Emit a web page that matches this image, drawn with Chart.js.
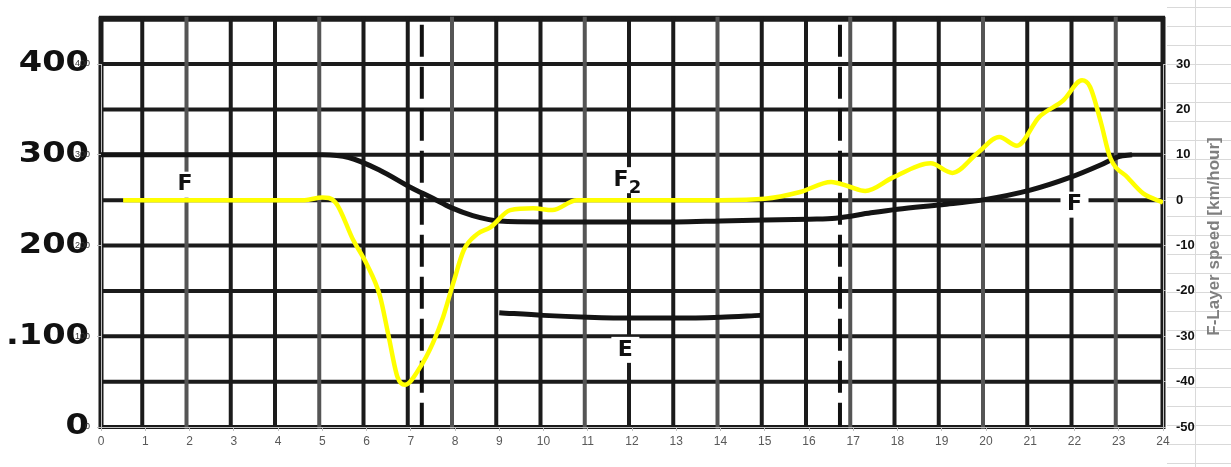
<!DOCTYPE html>
<html>
<head>
<meta charset="utf-8">
<script src="https://cdn.jsdelivr.net/npm/chart.js@4.4.0/dist/chart.umd.min.js"></script>
<style>
  html, body { margin: 0; padding: 0; background: #fff; }
</style>
</head>
<body>
<canvas id="speedChart" width="1231" height="467"></canvas>
<script>
// yellow curve: F-layer speed (km/hour), right axis
const speedHours = [0.5, 1, 2, 3, 4, 4.6, 5, 5.3, 5.7, 6.0, 6.3, 6.5, 6.7, 6.87, 7.2, 7.5, 7.73, 7.96, 8.2, 8.5, 8.8, 9.25, 9.77, 10.2, 10.75, 11.5, 12, 13, 14, 15, 15.8, 16.5, 16.9, 17.27, 17.9, 18.75, 19.24, 19.8, 20.3, 20.7, 21.2, 21.75, 22.17, 22.35, 22.6, 22.8, 23.2, 23.55, 24];
const speedValues = [0, 0, 0, 0, 0, 0, 0.6, -0.5, -8.8, -14, -21, -30, -39, -40.7, -37, -31.5, -25.8, -18.3, -11, -7.5, -6, -2.2, -1.8, -2.2, 0, 0, 0, 0, 0, 0.3, 1.8, 4, 3, 2, 5, 8.1, 6, 10.3, 13.9, 12, 18.3, 22, 26.4, 25, 17, 9.5, 5, 1.5, -0.5];

// scanned background curves: layer heights (km), left axis
const fHours = [0, 1, 2, 3, 4, 5, 5.6, 6.3, 7, 7.5, 7.9, 8.4, 9, 10, 11, 12, 13, 14, 15, 16, 16.6, 17.4, 18, 19, 19.9, 21, 21.9, 22.6, 23, 23.3];
const fHeights = [300, 300, 300, 300, 300, 300, 297, 283, 264, 252, 242, 233, 227, 226, 226, 226, 226, 227, 228, 229, 230, 236, 240, 245, 250, 261, 275, 289, 298, 300];
const eHours = [9, 10, 11, 12, 13, 14, 14.9];
const eHeights = [126, 123, 121, 120, 120, 121, 123];

// scanned labels
const scanHeightLabels = ['400', '300', '200', '.100', '0'];
const scanHeightValues = [400, 300, 200, 100, 0];
const markerHours = [7.25, 16.7];
const layerNames = ['F', 'F', 'E', 'F'];
const layerSubs = ['', '2', '', ''];
const layerHours = [1.9, 11.75, 11.85, 22.0];
const layerKm = [267, 272, 85, 245];

function toPoints(xs, ys) {
    return xs.map(function(v, i) { return { x: v, y: ys[i] }; });
}

const scanBackground = {
    id: 'scanBackground',
    beforeDraw: function(chart) {
        const ctx = chart.ctx;
        const x = chart.scales.x, y = chart.scales.y, y1 = chart.scales.y1;
        const W = chart.width, H = chart.height;
        ctx.save();
        ctx.fillStyle = '#fff';
        ctx.fillRect(0, 0, W, H);

        // spreadsheet cells behind the chart
        ctx.strokeStyle = '#d9d9d9';
        ctx.lineWidth = 1;
        for (let r = 7; r < H; r += 19) {
            ctx.beginPath(); ctx.moveTo(0, r + 0.5); ctx.lineTo(W, r + 0.5); ctx.stroke();
        }
        for (let c = 43; c < W; c += 64) {
            ctx.beginPath(); ctx.moveTo(c + 0.5, 0); ctx.lineTo(c + 0.5, H); ctx.stroke();
        }
        // the scanned picture covers most of the sheet
        ctx.fillStyle = '#fff';
        ctx.fillRect(0, 0, x.right + 4, x.bottom + 15);

        // scan grid
        const yTop = y.getPixelForValue(40), yBot = y.getPixelForValue(-50);
        ctx.strokeStyle = '#1b1b1b';
        for (let v = -50; v <= 40; v += 10) {
            const py = y.getPixelForValue(v);
            ctx.lineWidth = v === 40 ? 6 : 4;
            ctx.beginPath(); ctx.moveTo(x.left - 2, py); ctx.lineTo(x.right + 2, py); ctx.stroke();
        }
        for (let h = 0; h <= 24; h++) {
            const px = x.getPixelForValue(h) + (h > 0 && h < 24 ? -3 : 0);
            ctx.lineWidth = (h === 0 || h === 24) ? 5 : 4;
            ctx.strokeStyle = (h % 3 === 2) ? '#555' : '#1b1b1b';
            ctx.beginPath(); ctx.moveTo(px, yTop - 2); ctx.lineTo(px, yBot + 2); ctx.stroke();
        }
        // dashed markers
        ctx.strokeStyle = '#111';
        ctx.lineWidth = 4;
        ctx.setLineDash([32, 10]);
        markerHours.forEach(function(hr) {
            const px = x.getPixelForValue(hr);
            ctx.beginPath(); ctx.moveTo(px, yTop + 6); ctx.lineTo(px, yBot); ctx.stroke();
        });
        ctx.setLineDash([]);

        // big scanned height numbers
        ctx.fillStyle = '#111';
        ctx.font = 'bold 28px "DejaVu Sans"';
        ctx.textAlign = 'right';
        ctx.textBaseline = 'middle';
        scanHeightLabels.forEach(function(t, i) {
            const py = y1.getPixelForValue(scanHeightValues[i]);
            ctx.save();
            ctx.translate(89, py);
            ctx.scale(1.2, 1);
            ctx.fillText(t, 0, 0);
            ctx.restore();
        });

        // layer letters
        ctx.font = 'bold 22px "DejaVu Sans"';
        ctx.textAlign = 'center';
        layerNames.forEach(function(t, i) {
            const px = x.getPixelForValue(layerHours[i]);
            const py = y1.getPixelForValue(layerKm[i]);
            ctx.fillStyle = '#fff';
            ctx.fillRect(px - 14, py - 13, layerSubs[i] ? 40 : 28, 26);
            ctx.fillStyle = '#111';
            ctx.fillText(t, px, py);
            if (layerSubs[i]) {
                ctx.font = 'bold 18px "DejaVu Sans"';
                ctx.fillText(layerSubs[i], px + 14, py + 8);
                ctx.font = 'bold 22px "DejaVu Sans"';
            }
        });
        ctx.restore();
    },
    afterDraw: function(chart) {
        const ctx = chart.ctx;
        const a = chart.chartArea;
        ctx.save();
        ctx.translate(1214, (a.top + a.bottom) / 2 - 9);
        ctx.rotate(-Math.PI / 2);
        ctx.font = 'bold 17px "Liberation Sans"';
        ctx.fillStyle = '#7f7f7f';
        ctx.textAlign = 'center';
        ctx.textBaseline = 'middle';
        ctx.fillText('F-Layer speed [km/hour]', 0, 0);
        ctx.restore();
    }
};

const ctx = document.getElementById('speedChart').getContext('2d');
const speedChart = new Chart(ctx, {
    type: 'line',
    data: {
        datasets: [{
            label: 'F-Layer speed',
            data: toPoints(speedHours, speedValues),
            yAxisID: 'y',
            borderColor: '#ffff00',
            borderWidth: 4.5,
            pointRadius: 0,
            cubicInterpolationMode: 'monotone',
            order: 0
        }, {
            label: 'F',
            data: toPoints(fHours, fHeights),
            yAxisID: 'y1',
            borderColor: '#141414',
            borderWidth: 5,
            pointRadius: 0,
            cubicInterpolationMode: 'monotone',
            order: 1
        }, {
            label: 'E',
            data: toPoints(eHours, eHeights),
            yAxisID: 'y1',
            borderColor: '#141414',
            borderWidth: 5,
            pointRadius: 0,
            cubicInterpolationMode: 'monotone',
            order: 1
        }]
    },
    options: {
        responsive: false,
        animation: false,
        devicePixelRatio: 1,
        layout: { padding: { top: 64, left: 0, right: 0, bottom: 0 } },
        plugins: {
            legend: { display: false },
            tooltip: { enabled: false }
        },
        scales: {
            x: {
                type: 'linear',
                min: 0,
                max: 24,
                ticks: { stepSize: 1, color: '#595959', font: { family: 'Liberation Sans', size: 12 }, padding: 3 },
                grid: { drawOnChartArea: false, tickLength: 4, color: '#bfbfbf' },
                border: { color: '#bfbfbf' },
                afterFit: function(s) { s.height = 40; }
            },
            y1: {
                position: 'left',
                min: 0,
                max: 400,
                ticks: { stepSize: 100, color: '#333', font: { family: 'Liberation Sans', size: 9 }, padding: 7 },
                grid: { drawOnChartArea: false, tickLength: 4, color: '#bfbfbf' },
                border: { color: '#bfbfbf' },
                afterFit: function(s) { s.width = 101; }
            },
            y: {
                position: 'right',
                min: -50,
                max: 30,
                ticks: { stepSize: 10, color: '#111', font: { family: 'Liberation Sans', size: 13, weight: 'bold' }, padding: 10 },
                grid: { drawOnChartArea: false, tickLength: 3, color: '#bfbfbf' },
                border: { color: '#bfbfbf' },
                afterFit: function(s) { s.width = 68; }
            }
        }
    },
    plugins: [scanBackground]
});
</script>
</body>
</html>
